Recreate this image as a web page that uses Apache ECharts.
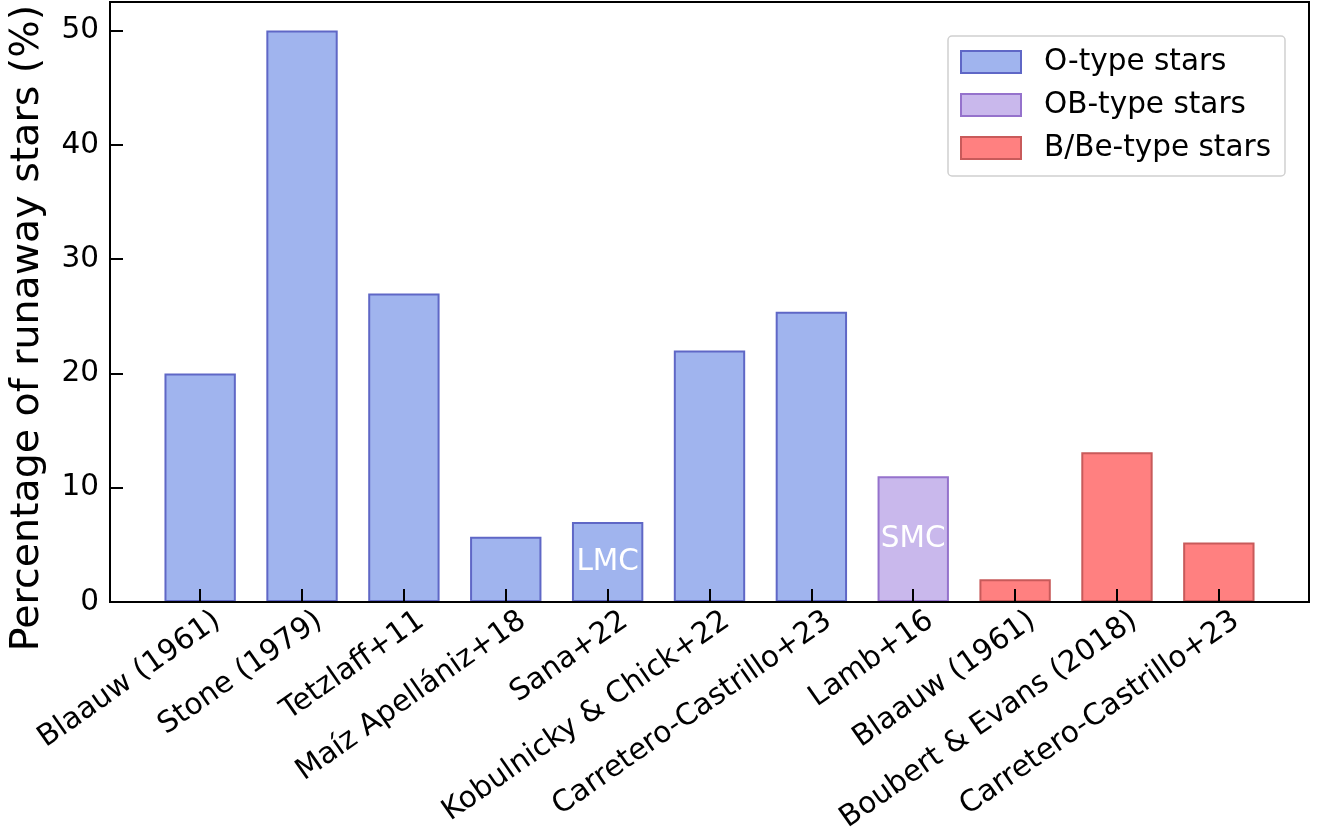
<!DOCTYPE html>
<html>
<head>
<meta charset="utf-8">
<script src="https://cdn.jsdelivr.net/npm/echarts@6/dist/echarts.min.js"></script>
<style>
  html, body { margin: 0; padding: 0; background: #fff; }
  #chart { width: 1329px; height: 837px; }
</style>
</head>
<body>
<div id="chart"></div>
<script>
// ---- data ----
const categories = ['Blaauw (1961)', 'Stone (1979)', 'Tetzlaff+11', 'Maíz Apellániz+18', 'Sana+22',
  'Kobulnicky & Chick+22', 'Carretero-Castrillo+23', 'Lamb+16', 'Blaauw (1961)',
  'Boubert & Evans (2018)', 'Carretero-Castrillo+23'];
const oTypeIdx = [0, 1, 2, 3, 4, 5, 6];
const oTypeVals = [20, 50, 27, 5.7, 7, 22, 25.4];
const obTypeIdx = [7];
const obTypeVals = [11];
const bTypeIdx = [8, 9, 10];
const bTypeVals = [2, 13.1, 5.2];
const barNotes = { 4: 'LMC', 7: 'SMC' };
const yTicks = [0, 10, 20, 30, 40, 50];
const seriesNames = ['O-type stars', 'OB-type stars', 'B/Be-type stars'];

const FONT = 'DejaVu Sans';
const FS = 29.5;
const chart = echarts.init(document.getElementById('chart'));
const gridLeft = 109, gridRight = 20;
const xMin = -0.885, xMax = 10.885;
const plotW = chart.getWidth() - gridLeft - gridRight;
const barW = 0.7 * plotW / (xMax - xMin);
const labelShift = 0.17; // label anchor offset (in category units)

function mk(idx, vals) {
  return idx.map((i, k) => {
    const item = { value: [i, vals[k]] };
    if (barNotes[i]) {
      item.label = { show: true, position: 'inside', formatter: barNotes[i],
        color: '#fff', fontSize: FS, fontFamily: FONT };
    }
    return item;
  });
}
const styles = [
  { color: '#a0b4ee', borderColor: '#5f67c6' },
  { color: '#c9b8ec', borderColor: '#9572cc' },
  { color: '#ff8080', borderColor: '#c85a5a' }
];
const datas = [mk(oTypeIdx, oTypeVals), mk(obTypeIdx, obTypeVals), mk(bTypeIdx, bTypeVals)];

chart.setOption({
  backgroundColor: '#fff',
  animation: false,
  grid: { left: gridLeft, right: gridRight, top: 2, bottom: 235, show: true,
    borderColor: '#000', borderWidth: 2, backgroundColor: 'transparent' },
  legend: {
    orient: 'vertical', left: 948, top: 36,
    padding: [11, 14, 13, 12],
    itemWidth: 60, itemHeight: 22, itemGap: 13,
    borderColor: '#d0d0d0', borderWidth: 1.5, borderRadius: 4,
    backgroundColor: '#fff',
    icon: 'rect',
    textStyle: { fontFamily: FONT, fontSize: FS, color: '#000', padding: [0, 0, 0, 18] },
    data: seriesNames
  },
  xAxis: {
    type: 'value', min: xMin, max: xMax, z: 10,
    splitLine: { show: false },
    axisLine: { show: true, onZero: false, lineStyle: { color: '#000', width: 2 } },
    axisTick: { show: true, inside: true, length: 13, customValues: categories.map((c, i) => i),
      lineStyle: { color: '#000', width: 2 } },
    axisLabel: { customValues: categories.map((c, i) => i + labelShift), rotate: 35, margin: 16,
      fontFamily: FONT, fontSize: FS, color: '#000',
      formatter: v => categories[Math.round(v)] }
  },
  yAxis: {
    type: 'value', min: 0, max: 52.5, interval: 10, z: 10,
    splitLine: { show: false },
    axisLine: { show: true, onZero: false, lineStyle: { color: '#000', width: 2 } },
    axisTick: { show: true, inside: true, length: 13, lineStyle: { color: '#000', width: 2 } },
    axisLabel: { fontFamily: FONT, fontSize: FS, color: '#000', margin: 11, showMaxLabel: false,
      formatter: v => (yTicks.indexOf(v) >= 0 ? String(v) : '') },
    name: 'Percentage of runaway stars (%)',
    nameLocation: 'middle', nameGap: 62,
    nameTextStyle: { fontFamily: FONT, fontSize: 39.5, color: '#000', padding: [0, 52, 0, 0] }
  },
  series: seriesNames.map((n, s) => ({
    name: n, type: 'bar', barWidth: barW, barGap: '-100%',
    itemStyle: { color: styles[s].color, borderColor: styles[s].borderColor, borderWidth: 2 },
    data: datas[s]
  }))
});
</script>
</body>
</html>
